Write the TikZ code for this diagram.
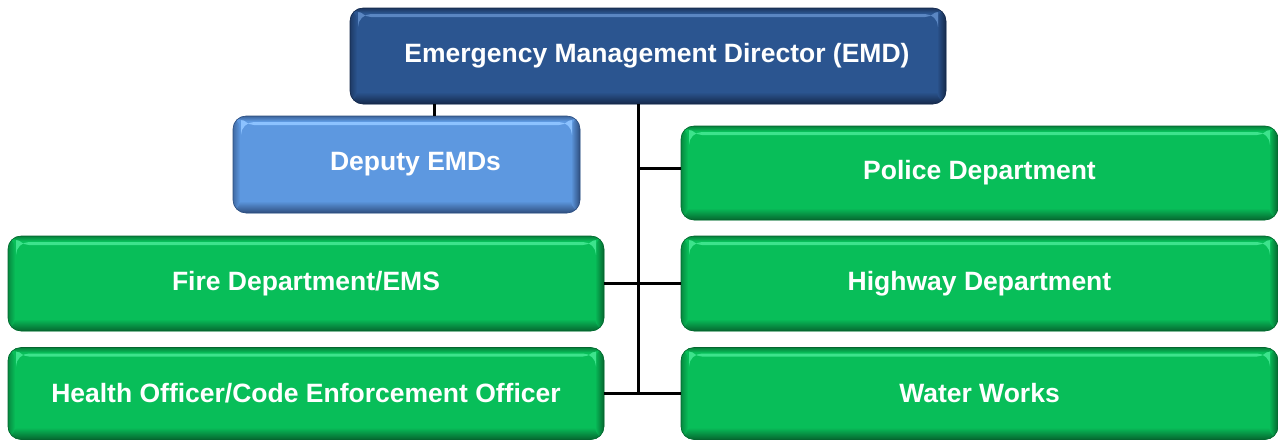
\documentclass[tikz,border=0pt]{standalone}
\usepackage{fontspec}
\setmainfont{Liberation Sans}
\begin{document}
\begin{tikzpicture}[x=1pt,y=-1pt,
  bevel/.style n args={3}{rounded corners=13pt, fill=#1, draw=#3, line width=0.6pt,
    text=white, font=\bfseries\fontsize{26.5}{28}\selectfont, inner sep=0pt,
    path picture={
      \path (path picture bounding box.south west) coordinate (bsw)
            (path picture bounding box.north east) coordinate (bne);
      \shade[top color=#1, bottom color=#3] (bsw) rectangle ([yshift=12pt]bsw -| bne);
      \shade[left color=#1, right color=#3] ([xshift=-9pt]bne) rectangle (bsw -| bne);
      \shade[right color=#1, left color=#3!60!#1] ([xshift=7pt]bsw) rectangle (bsw |- bne);
      \fill[#2] ([xshift=8pt,yshift=-6pt]bsw |- bne) rectangle ([xshift=-8pt,yshift=-9pt]bne);
      \shade[top color=#3!70!#1, bottom color=#1] (bsw |- bne) rectangle ([yshift=-5pt]bne);
    }},
  greenbox/.style={bevel={green1}{green2}{green3}},
  conn/.style={line width=3pt, black}
]
\definecolor{green1}{HTML}{08BE59}
\definecolor{green2}{HTML}{3DE38C}
\definecolor{green3}{HTML}{05662F}
\definecolor{blue1}{HTML}{2B5590}
\definecolor{blue2}{HTML}{5A86C2}
\definecolor{blue3}{HTML}{15294A}
\definecolor{lblue1}{HTML}{5D98E0}
\definecolor{lblue2}{HTML}{8CC2FF}
\definecolor{lblue3}{HTML}{2E4E7E}
\useasboundingbox (0,0) rectangle (1278,440);
\node[bevel={blue1}{blue2}{blue3}, minimum width=596pt, minimum height=96pt] (emd) at (648,56) {\hspace*{18pt}Emergency Management Director (EMD)};
\node[bevel={lblue1}{lblue2}{lblue3}, minimum width=347pt, minimum height=97pt] (dep) at (406.5,164.5) {\hspace*{18pt}Deputy EMDs};
\node[greenbox, minimum width=597pt, minimum height=94pt] (pol) at (979.5,173) {Police Department};
\node[greenbox, minimum width=596pt, minimum height=95pt] (fire) at (306,283.5) {Fire Department/EMS};
\node[greenbox, minimum width=597pt, minimum height=95pt] (hwy) at (979.5,283.5) {Highway Department};
\node[greenbox, minimum width=596pt, minimum height=92pt] (hlth) at (306,393.5) {Health Officer/Code Enforcement Officer};
\node[greenbox, minimum width=597pt, minimum height=92pt] (wat) at (979.5,393.5) {Water Works};
\coordinate (t) at (638,0);
\coordinate (d) at (434,0);
\draw[conn] (d |- emd.south) -- (d |- dep.north);
\draw[conn] (t |- emd.south) -- (t |- wat.west);
\draw[conn] ([yshift=5pt]t |- pol.west) -- ([yshift=5pt]pol.west);
\draw[conn] (fire.east) -- (hwy.west);
\draw[conn] (hlth.east) -- (wat.west);
\end{tikzpicture}
\end{document}
